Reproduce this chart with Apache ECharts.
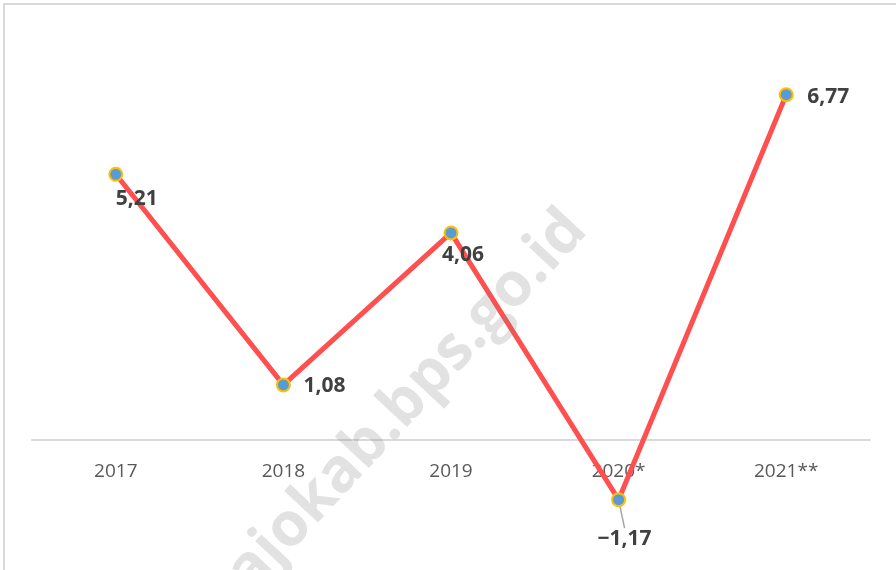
<!DOCTYPE html>
<html><head><meta charset="utf-8">
<script src="https://cdn.jsdelivr.net/npm/echarts@6/dist/echarts.min.js"></script>
<style>html,body{margin:0;padding:0;background:#fff}#c{width:896px;height:570px}</style>
</head><body><div id="c"></div>
<script>
var categories = ['2017', '2018', '2019', '2020*', '2021**'];
var values = [5.21, 1.08, 4.06, -1.17, 6.77];

var chart = echarts.init(document.getElementById('c'));
function fmt(v){ return (v < 0 ? '\u2212' : '') + Math.abs(v).toFixed(2).replace('.', ','); }
// label centre offsets from the point (styling only)
var labelOffsets = [[21, 25], [41, 1], [12, 22], [6, 39], [42, 2]];
var data = values.map(function(v, i){
  var d = {value: v};
  if (i === 3) d.labelLine = {show: true};
  return d;
});
chart.setOption({
  animation: false,
  grid: {left: 32, right: 26, top: 32, bottom: 130, containLabel: false, outerBoundsMode: 'none'},
  xAxis: {
    type: 'category', data: categories, boundaryGap: true,
    axisLine: {show: true, onZero: false, lineStyle: {color: '#d9d9d9', width: 2}},
    axisTick: {show: false},
    axisLabel: {color: '#595959', fontSize: 19, fontFamily: 'Open Sans', margin: 22}
  },
  yAxis: {type: 'value', min: 0, max: 8, show: false, splitLine: {show: false}},
  series: [{
    type: 'line', data: data, clip: false,
    lineStyle: {color: '#ff4f4f', width: 5},
    symbol: 'circle', symbolSize: 13,
    itemStyle: {color: '#5b9bd5', borderColor: '#ffc000', borderWidth: 2},
    label: {show: true, position: 'inside', formatter: function(p){ return fmt(p.value); }, color: '#404040', fontSize: 21, fontWeight: 'bold', fontFamily: 'Open Sans'},
    labelLine: {show: false, lineStyle: {color: '#a6a6a6', width: 1.5}},
    labelLayout: function(params){
      var r = params.rect;
      var o = labelOffsets[params.dataIndex];
      return {x: r.x + r.width / 2 + o[0], y: r.y + r.height / 2 + o[1], align: 'center', verticalAlign: 'middle'};
    },
    z: 2
  }],
  graphic: [
    {type: 'rect', shape: {x: 4, y: 4, width: 1000, height: 1000}, style: {fill: 'none', stroke: '#d9d9d9', lineWidth: 2}, silent: true},
    {type: 'text', x: 387, y: 423, rotation: 47 * Math.PI / 180,
     style: {text: 'majokab.bps.go.id', font: 'bold 61px "Open Sans"', fill: 'rgba(128,128,128,0.23)', textAlign: 'center', textVerticalAlign: 'middle'},
     z: 100, silent: true}
  ]
});
</script></body></html>
